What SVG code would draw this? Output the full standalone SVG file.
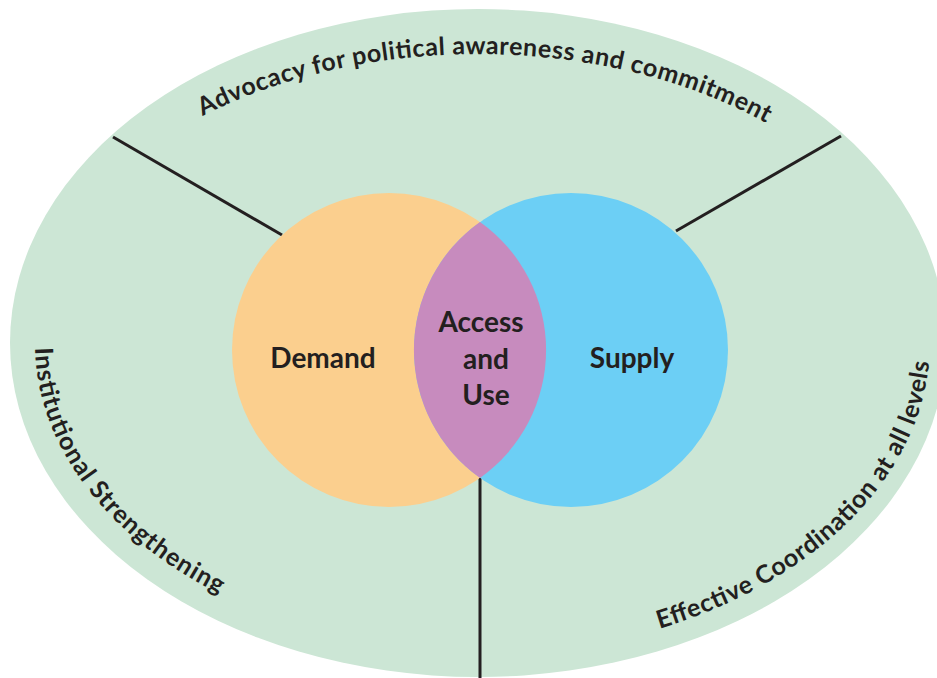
<svg xmlns="http://www.w3.org/2000/svg" width="937" height="678" viewBox="0 0 937 678">
<style>
.lbl{font-family:Lato,"Open Sans","Liberation Sans",sans-serif;font-weight:700;fill:#231f20}
.big{font-size:28px;text-anchor:middle}
.ring{font-size:25px}
.conn{stroke:#231f20;stroke-width:3;fill:none}
</style>
<defs>
<path id="pTop" d="M33,343 A445,289 0 0 1 923,343"/>
<path id="pLeft" d="M478,34 A443,309 0 0 0 478,652"/>
<path id="pRight" d="M478,655 A452,312 0 0 0 478,31"/>
</defs>
<rect width="937" height="678" fill="#ffffff"/>
<g id="outer-ring">
<ellipse cx="478" cy="343" rx="468" ry="334" fill="#cce6d5"/>
</g>
<g id="connectors">
<line class="conn" x1="113" y1="137" x2="282" y2="235"/>
<line class="conn" x1="841" y1="136" x2="676" y2="231"/>
<line class="conn" x1="480" y1="478" x2="480" y2="680"/>
</g>
<g id="demand">
<circle cx="389" cy="350" r="157" fill="#fbcf8e"/>
<text class="lbl big" x="323" y="368">Demand</text>
</g>
<g id="supply">
<circle cx="571" cy="350" r="157" fill="#6ccff5"/>
<text class="lbl big" x="632" y="368">Supply</text>
</g>
<g id="access-and-use">
<path d="M480,222 A157,157 0 0 1 480,478 A157,157 0 0 1 480,222 Z" fill="#c78bbe"/>
<text class="lbl big" x="481" y="332">Access</text>
<text class="lbl big" x="486" y="369">and</text>
<text class="lbl big" x="486" y="405">Use</text>
</g>
<g id="advocacy">
<text class="lbl ring"><textPath href="#pTop" startOffset="298" textLength="584" lengthAdjust="spacing">Advocacy for political awareness and commitment</textPath></text>
</g>
<g id="institutional">
<text class="lbl ring"><textPath href="#pLeft" startOffset="600" textLength="323" lengthAdjust="spacing">Institutional Strengthening</textPath></text>
</g>
<g id="coordination">
<text class="lbl ring"><textPath href="#pRight" startOffset="184" textLength="402" lengthAdjust="spacing">Effective Coordination at all levels</textPath></text>
</g>
</svg>
